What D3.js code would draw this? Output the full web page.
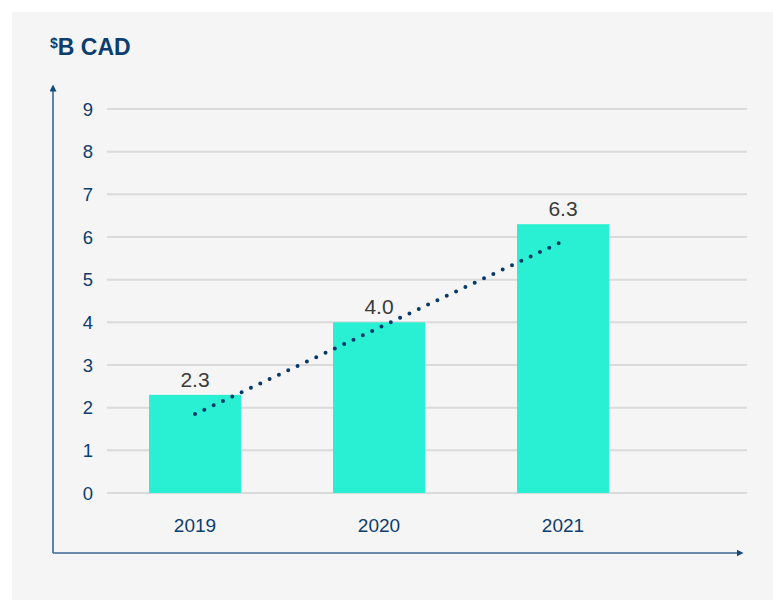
<!DOCTYPE html>
<html>
<head>
<meta charset="utf-8">
<script src="https://cdn.jsdelivr.net/npm/d3@7"></script>
<style>
  body { margin: 0; background: #fff; }
  svg { display: block; font-family: "Liberation Sans", Arial, sans-serif; }
</style>
</head>
<body>
<div id="chart"></div>
<script>
const years = ["2019", "2020", "2021"];
const values = [2.3, 4.0, 6.3];
const valueLabels = ["2.3", "4.0", "6.3"];
const yTicks = [0, 1, 2, 3, 4, 5, 6, 7, 8, 9];
const trendYears = ["2019", "2021"];
const trendValues = [1.85, 5.9];

const W = 773, H = 600;
const navy = "#0b3d6e";

const svg = d3.select("#chart").append("svg")
  .attr("width", W)
  .attr("height", H);

// panel background
svg.append("rect")
  .attr("x", 12).attr("y", 12)
  .attr("width", W - 12).attr("height", H - 12)
  .attr("fill", "#f5f5f5");

const x = d3.scaleBand().domain(years).range([103, 655])
  .paddingInner(0.5).paddingOuter(0.25);
const y = d3.scaleLinear().domain([0, 9]).range([493, 109]);

// title
const title = svg.append("text")
  .attr("x", 50).attr("y", 55)
  .attr("fill", navy)
  .attr("font-weight", "bold");
title.append("tspan").attr("font-size", 14).attr("dy", -7).text("$");
title.append("tspan").attr("font-size", 23).attr("dy", 7).text("B CAD");

// gridlines
svg.append("g").selectAll("line")
  .data(yTicks)
  .join("line")
  .attr("x1", 107).attr("x2", 747)
  .attr("y1", d => y(d)).attr("y2", d => y(d))
  .attr("stroke", "#dadada")
  .attr("stroke-width", 2);

// y tick labels
svg.append("g").selectAll("text")
  .data(yTicks)
  .join("text")
  .attr("x", 88)
  .attr("y", d => y(d))
  .attr("dy", "0.36em")
  .attr("text-anchor", "middle")
  .attr("font-size", 18.5)
  .attr("fill", navy)
  .text(d => d);

// bars
svg.append("g").selectAll("rect")
  .data(years)
  .join("rect")
  .attr("x", d => x(d))
  .attr("width", x.bandwidth())
  .attr("y", (d, i) => y(values[i]))
  .attr("height", (d, i) => y(0) - y(values[i]))
  .attr("fill", "#2af0d3");

// value labels
svg.append("g").selectAll("text")
  .data(years)
  .join("text")
  .attr("x", d => x(d) + x.bandwidth() / 2)
  .attr("y", (d, i) => y(values[i]) - 8)
  .attr("text-anchor", "middle")
  .attr("font-size", 21)
  .attr("fill", "#3a3a3a")
  .text((d, i) => valueLabels[i]);

// year labels
svg.append("g").selectAll("text")
  .data(years)
  .join("text")
  .attr("x", d => x(d) + x.bandwidth() / 2)
  .attr("y", 532)
  .attr("text-anchor", "middle")
  .attr("font-size", 19)
  .attr("fill", navy)
  .text(d => d);

// dotted trend line
const trend = d3.line()
  .x((d, i) => x(trendYears[i]) + x.bandwidth() / 2)
  .y(d => y(d));

svg.append("path")
  .attr("d", trend(trendValues))
  .attr("fill", "none")
  .attr("stroke", "#063a6b")
  .attr("stroke-width", 4)
  .attr("stroke-linecap", "round")
  .attr("stroke-dasharray", "0 10.3");

// axes with arrowheads
const axisColor = "#3b6694";
svg.append("defs").append("marker")
  .attr("id", "arrow")
  .attr("viewBox", "0 0 10 10")
  .attr("refX", 5).attr("refY", 5)
  .attr("markerWidth", 7).attr("markerHeight", 7)
  .attr("markerUnits", "userSpaceOnUse")
  .attr("orient", "auto")
  .append("path")
  .attr("d", "M0,0L10,5L0,10z")
  .attr("fill", "#124a7c");

svg.append("line")
  .attr("x1", 53).attr("y1", 553)
  .attr("x2", 53).attr("y2", 88)
  .attr("stroke", axisColor)
  .attr("stroke-width", 1.6)
  .attr("marker-end", "url(#arrow)");

svg.append("line")
  .attr("x1", 53).attr("y1", 553)
  .attr("x2", 740).attr("y2", 553)
  .attr("stroke", axisColor)
  .attr("stroke-width", 1.6)
  .attr("marker-end", "url(#arrow)");
</script>
</body>
</html>
